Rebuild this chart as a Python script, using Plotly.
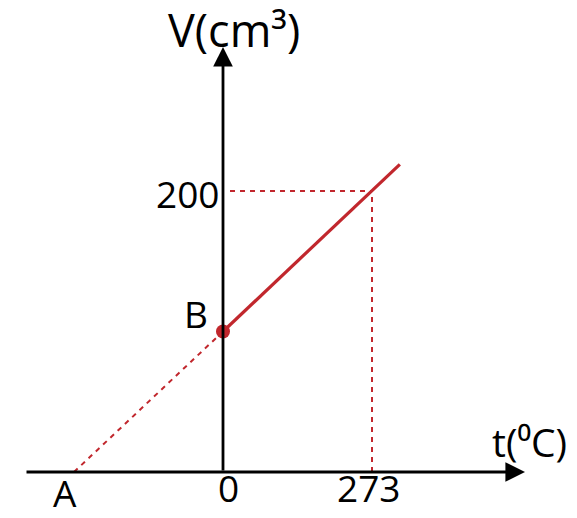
import plotly.graph_objects as go

# data (t in °C, V in cm³)
t_solid = [0, 324]
v_solid = [100, 219]
t_extrap = [-273, 0]
v_extrap = [0, 100]
t_ref = 273
v_ref = 200
point_B = (0, 100)
tick_labels = {"A": -273, "0": 0, "273": 273}

RED = "#c1272d"
FONT = "Open Sans"

W, H = 577, 518
x0px, y0px = 223, 472
xs = 149 / 273
ys = 281 / 200
xr = [(0 - x0px) / xs, (W - x0px) / xs]
yr = [(y0px - H) / ys, (y0px - 0) / ys]


def px_x(p):
    return (p - x0px) / xs


def px_y(p):
    return (y0px - p) / ys


DASH = dict(color=RED, width=2, dash="5px,5px")

fig = go.Figure()
fig.add_trace(go.Scatter(x=t_extrap, y=v_extrap, mode="lines", line=DASH, hoverinfo="skip"))
fig.add_trace(go.Scatter(x=[px_x(230), t_ref], y=[v_ref, v_ref], mode="lines", line=DASH, hoverinfo="skip"))
fig.add_trace(go.Scatter(x=[t_ref, t_ref], y=[0, v_ref], mode="lines", line=DASH, hoverinfo="skip"))
fig.add_trace(go.Scatter(x=t_solid, y=v_solid, mode="lines",
                         line=dict(color=RED, width=3.2), hoverinfo="skip"))
fig.add_trace(go.Scatter(x=[point_B[0]], y=[point_B[1]], mode="markers",
                         marker=dict(color=RED, size=14), hoverinfo="skip"))

# axes with arrows
fig.add_annotation(x=px_x(525), y=0, ax=px_x(25), ay=0, xref="x", yref="y", axref="x", ayref="y",
                   showarrow=True, arrowhead=2, arrowsize=1.4, arrowwidth=2.8, arrowcolor="black", text="")
fig.add_annotation(x=0, y=px_y(47), ax=0, ay=0, xref="x", yref="y", axref="x", ayref="y",
                   showarrow=True, arrowhead=2, arrowsize=1.4, arrowwidth=2.8, arrowcolor="black", text="")

# texts
fig.add_annotation(x=px_x(234), y=yr[1], yanchor="top", yshift=2, text="V(cm³)", showarrow=False, borderpad=0,
                   font=dict(family=FONT, size=45, color="black"))
fig.add_annotation(x=px_x(529), y=px_y(441), text="t(⁰C)", showarrow=False,
                   font=dict(family=FONT, size=39, color="black"))
fig.add_annotation(x=px_x(221), y=px_y(193), text="200", showarrow=False, xanchor="right",
                   font=dict(family=FONT, size=37, color="black"))
fig.add_annotation(x=px_x(196), y=px_y(313), text="B", showarrow=False,
                   font=dict(family=FONT, size=37, color="black"))
for lab, tv in tick_labels.items():
    dx = -9 if lab == "A" else (5 if lab == "0" else -4)
    fig.add_annotation(x=tv + dx / xs, y=yr[0], yanchor="bottom", text=lab, showarrow=False, borderpad=0,
                       yshift=(-1 if lab == "A" else 4),
                       font=dict(family=FONT, size=37, color="black"))

fig.update_layout(width=W, height=H, margin=dict(l=0, r=0, t=0, b=0),
                  paper_bgcolor="white", plot_bgcolor="white", showlegend=False,
                  xaxis=dict(range=xr, visible=False, fixedrange=True),
                  yaxis=dict(range=yr, visible=False, fixedrange=True))
fig.write_html("out.html")
